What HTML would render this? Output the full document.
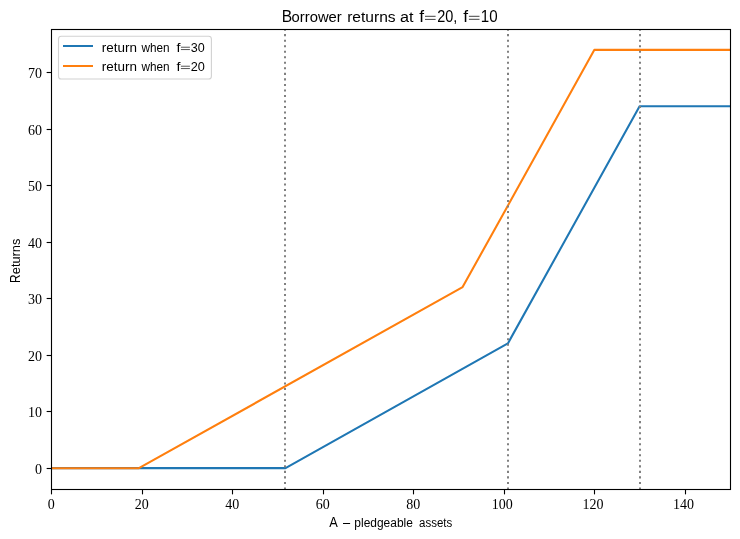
<!DOCTYPE html><html><head><meta charset="utf-8"><style>html,body{margin:0;padding:0;background:#fff;}svg{display:block;will-change:transform;}text{font-kerning:none;}.s{font-family:"Liberation Sans",sans-serif;fill:#000;}.r{font-family:"Liberation Serif",serif;fill:#000;}</style></head><body><svg width="740" height="539" viewBox="0 0 740 539"><rect width="740" height="539" fill="#fff"/><defs><clipPath id="ax"><rect x="51.50" y="29.50" width="679.00" height="460.00"/></clipPath></defs><g clip-path="url(#ax)" fill="none" stroke-width="2.08" stroke-linejoin="round" stroke-linecap="square"><polyline points="51.50,468.15 285.50,468.15 507.90,343.40 639.60,106.20 730.50,106.20" stroke="#1f77b4"/><polyline points="51.50,468.20 138.90,468.20 462.60,287.10 594.40,49.85 730.50,49.85" stroke="#ff7f0e"/></g><line x1="285.00" y1="489.50" x2="285.00" y2="29.50" stroke="#808080" stroke-width="2" stroke-dasharray="2.08 3.448"/><line x1="508.00" y1="489.50" x2="508.00" y2="29.50" stroke="#808080" stroke-width="2" stroke-dasharray="2.08 3.448"/><line x1="640.00" y1="489.50" x2="640.00" y2="29.50" stroke="#808080" stroke-width="2" stroke-dasharray="2.08 3.448"/><rect x="51.50" y="29.50" width="679.00" height="460.00" fill="none" stroke="#000" stroke-width="1.11" stroke-linejoin="miter"/><line x1="51.50" y1="489.50" x2="51.50" y2="494.36" stroke="#000" stroke-width="1.11"/><text class="r" x="51.20" y="508.60" font-size="14" text-anchor="middle">0</text><line x1="142.50" y1="489.50" x2="142.50" y2="494.36" stroke="#000" stroke-width="1.11"/><text class="r" x="141.73" y="508.60" font-size="14" text-anchor="middle">20</text><line x1="232.50" y1="489.50" x2="232.50" y2="494.36" stroke="#000" stroke-width="1.11"/><text class="r" x="232.27" y="508.60" font-size="14" text-anchor="middle">40</text><line x1="323.50" y1="489.50" x2="323.50" y2="494.36" stroke="#000" stroke-width="1.11"/><text class="r" x="322.80" y="508.60" font-size="14" text-anchor="middle">60</text><line x1="413.50" y1="489.50" x2="413.50" y2="494.36" stroke="#000" stroke-width="1.11"/><text class="r" x="413.33" y="508.60" font-size="14" text-anchor="middle">80</text><line x1="504.50" y1="489.50" x2="504.50" y2="494.36" stroke="#000" stroke-width="1.11"/><text class="r" x="502.37" y="508.60" font-size="14" text-anchor="middle">100</text><line x1="594.50" y1="489.50" x2="594.50" y2="494.36" stroke="#000" stroke-width="1.11"/><text class="r" x="592.90" y="508.60" font-size="14" text-anchor="middle">120</text><line x1="685.50" y1="489.50" x2="685.50" y2="494.36" stroke="#000" stroke-width="1.11"/><text class="r" x="683.43" y="508.60" font-size="14" text-anchor="middle">140</text><line x1="51.50" y1="468.50" x2="46.64" y2="468.50" stroke="#000" stroke-width="1.11"/><text class="r" x="41.90" y="474.00" font-size="14" text-anchor="end">0</text><line x1="51.50" y1="411.50" x2="46.64" y2="411.50" stroke="#000" stroke-width="1.11"/><text class="r" x="41.90" y="417.48" font-size="14" text-anchor="end">10</text><line x1="51.50" y1="355.50" x2="46.64" y2="355.50" stroke="#000" stroke-width="1.11"/><text class="r" x="41.90" y="360.96" font-size="14" text-anchor="end">20</text><line x1="51.50" y1="298.50" x2="46.64" y2="298.50" stroke="#000" stroke-width="1.11"/><text class="r" x="41.90" y="304.44" font-size="14" text-anchor="end">30</text><line x1="51.50" y1="242.50" x2="46.64" y2="242.50" stroke="#000" stroke-width="1.11"/><text class="r" x="41.90" y="247.92" font-size="14" text-anchor="end">40</text><line x1="51.50" y1="185.50" x2="46.64" y2="185.50" stroke="#000" stroke-width="1.11"/><text class="r" x="41.90" y="191.40" font-size="14" text-anchor="end">50</text><line x1="51.50" y1="129.50" x2="46.64" y2="129.50" stroke="#000" stroke-width="1.11"/><text class="r" x="41.90" y="134.88" font-size="14" text-anchor="end">60</text><line x1="51.50" y1="72.50" x2="46.64" y2="72.50" stroke="#000" stroke-width="1.11"/><text class="r" x="41.90" y="78.36" font-size="14" text-anchor="end">70</text><rect x="58.5" y="36.3" width="152.9" height="42.65" rx="2.8" ry="2.8" fill="#fff" fill-opacity="0.8" stroke="#d2d2d2" stroke-width="1.11"/><rect x="63" y="45" width="30" height="2" fill="#1f77b4"/><rect x="63" y="65" width="30" height="2" fill="#ff7f0e"/><text class="s" font-size="13.00" transform="translate(101.81,51.80) scale(1.0356,1)">return</text><text class="s" font-size="13.00" transform="translate(141.52,51.80) scale(0.9057,1)">when</text><text class="s" font-size="13.00" transform="translate(176.45,51.80) scale(1.1000,1)">f</text><rect x="180.90" y="46.75" width="9.00" height="0.90" fill="#444"/><rect x="180.90" y="49.15" width="9.00" height="0.90" fill="#444"/><text class="s" font-size="13.00" transform="translate(190.82,51.80) scale(0.9660,1)">30</text><text class="s" font-size="13.00" transform="translate(101.81,70.80) scale(1.0356,1)">return</text><text class="s" font-size="13.00" transform="translate(141.52,70.80) scale(0.9057,1)">when</text><text class="s" font-size="13.00" transform="translate(176.45,70.80) scale(1.1000,1)">f</text><rect x="180.90" y="65.75" width="9.00" height="0.90" fill="#444"/><rect x="180.90" y="68.15" width="9.00" height="0.90" fill="#444"/><text class="s" font-size="13.00" transform="translate(190.66,70.80) scale(0.9776,1)">20</text><text class="s" font-size="16.50" transform="translate(281.82,21.70) scale(0.9451,1)">B</text><text class="s" font-size="15.20" transform="translate(291.58,21.70) scale(0.9757,1)">orrower</text><text class="s" font-size="15.20" transform="translate(347.17,21.70) scale(1.0252,1)">returns</text><text class="s" font-size="15.20" transform="translate(399.91,21.70) scale(1.0655,1)">at</text><text class="s" font-size="15.80" transform="translate(419.25,21.70) scale(1.1000,1)">f</text><rect x="425.00" y="15.80" width="10.60" height="1.00" fill="#444"/><rect x="425.00" y="18.90" width="10.60" height="1.00" fill="#444"/><text class="s" font-size="15.80" transform="translate(437.17,21.70) scale(0.9165,1)">20,</text><text class="s" font-size="15.80" transform="translate(463.20,21.70) scale(1.1000,1)">f</text><rect x="468.90" y="15.80" width="10.60" height="1.00" fill="#444"/><rect x="468.90" y="18.80" width="10.60" height="1.00" fill="#444"/><text class="s" font-size="15.80" transform="translate(480.75,21.70) scale(0.9585,1)">10</text><text class="s" font-size="14.00" transform="translate(329.27,526.80) scale(0.9156,1)">A</text><text class="s" font-size="14.00" transform="translate(343.00,526.80) scale(0.9127,1)">–</text><text class="s" font-size="13.30" transform="translate(354.33,526.80) scale(0.9004,1)">pledgeable</text><text class="s" font-size="13.30" transform="translate(419.01,526.80) scale(0.8665,1)">assets</text><text class="s" font-size="14.00" transform="translate(20.10,282.97) rotate(-90) scale(0.8421,1)">R</text><text class="s" font-size="13.30" transform="translate(20.10,274.25) rotate(-90) scale(0.9661,1)">eturns</text></svg></body></html>
